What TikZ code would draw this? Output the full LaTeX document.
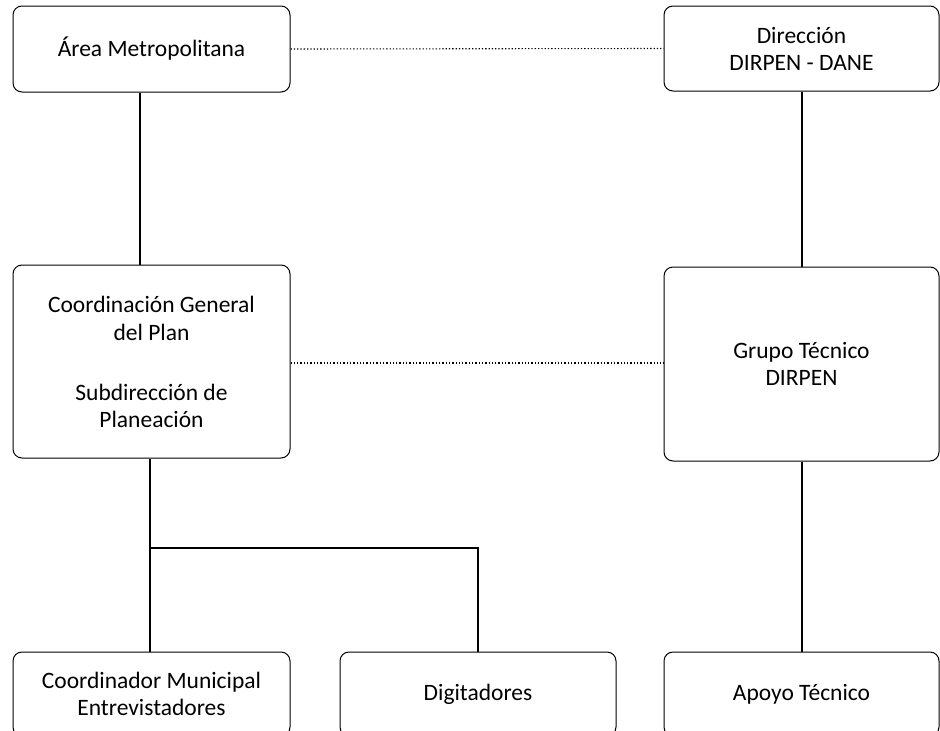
\documentclass[tikz,border=0pt]{standalone}
\usepackage{fontspec}
\setmainfont{Carlito}
\begin{document}
\begin{tikzpicture}[x=1pt,y=-1pt,
  box/.style={draw,line width=1pt,rounded corners=9pt,align=center,font=\fontsize{23.5}{27}\selectfont,inner sep=0pt},
  link/.style={line width=1.4pt},
  dotlink/.style={line width=1.1pt,dash pattern=on 1.3pt off 2pt}]
\useasboundingbox (0,0) rectangle (940,731);
\fill[white] (0,0) rectangle (940,731);
\node[box,minimum width=277pt,minimum height=86pt] (area) at (151.5,49) {Área Metropolitana};
\node[box,minimum width=275pt,minimum height=85pt] (dir) at (801.5,48.5) {Dirección\\DIRPEN - DANE};
\node[box,minimum width=277pt,minimum height=193pt] (coord) at (151.5,361.5) {Coordinación General\\[1pt]del Plan\\[33pt]Subdirección de\\Planeación};
\node[box,minimum width=275pt,minimum height=194pt] (grupo) at (801.5,364) {Grupo Técnico\\DIRPEN};
\node[box,minimum width=277pt,minimum height=84pt] (cm) at (151.5,694) {Coordinador Municipal\\Entrevistadores};
\node[box,minimum width=276pt,minimum height=84pt] (dig) at (478,694) {Digitadores};
\node[box,minimum width=275pt,minimum height=84pt] (apoyo) at (801.5,694) {Apoyo Técnico};
\coordinate (j) at (150,548);
\draw[dotlink] (area.east) -- (dir.west);
\draw[dotlink] (coord.east |- 0,363) -- (grupo.west |- 0,363);
\draw[link] ([xshift=-11.5pt]area.south) -- ([xshift=-11.5pt]coord.north);
\draw[link] ([xshift=0.5pt]dir.south) -- ([xshift=0.5pt]grupo.north);
\draw[link] ([xshift=0.5pt]grupo.south) -- ([xshift=0.5pt]apoyo.north);
\draw[link] (coord.south -| j) -- (j) -- (j |- cm.north);
\draw[link] (j) -| (dig.north);
\end{tikzpicture}
\end{document}
